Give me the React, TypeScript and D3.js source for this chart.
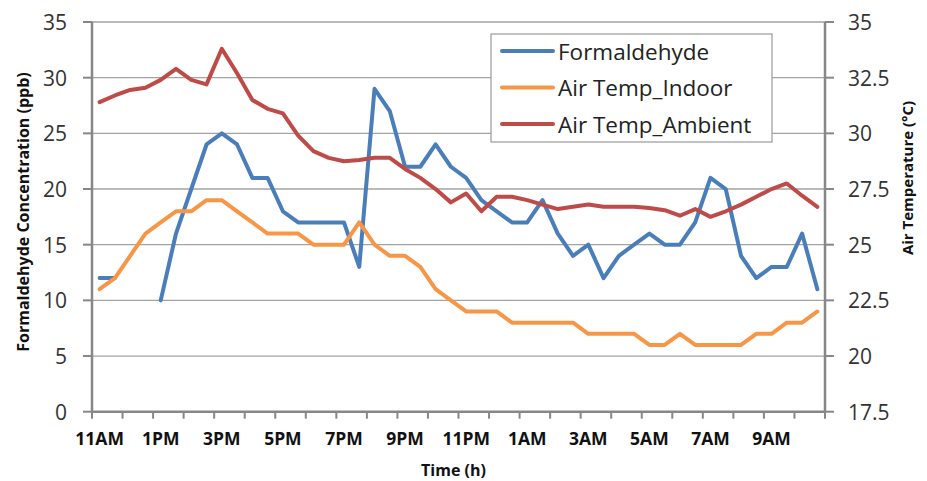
import React, { useEffect } from "react";
import * as d3 from "d3";

const categories = [
  "11:00", "11:30", "12:00", "12:30", "13:00", "13:30", "14:00", "14:30",
  "15:00", "15:30", "16:00", "16:30", "17:00", "17:30", "18:00", "18:30",
  "19:00", "19:30", "20:00", "20:30", "21:00", "21:30", "22:00", "22:30",
  "23:00", "23:30", "00:00", "00:30", "01:00", "01:30", "02:00", "02:30",
  "03:00", "03:30", "04:00", "04:30", "05:00", "05:30", "06:00", "06:30",
  "07:00", "07:30", "08:00", "08:30", "09:00", "09:30", "10:00", "10:30",
];

const tickLabels = ["11AM", "1PM", "3PM", "5PM", "7PM", "9PM", "11PM", "1AM", "3AM", "5AM", "7AM", "9AM"];

const formaldehyde: (number | null)[] = [
  12, 12, null, null, 10, 16, 20, 24, 25, 24, 21, 21, 18, 17, 17, 17,
  17, 13, 29, 27, 22, 22, 24, 22, 21, 19, 18, 17, 17, 19, 16, 14,
  15, 12, 14, 15, 16, 15, 15, 17, 21, 20, 14, 12, 13, 13, 16, 11,
];

const tempIndoor = [
  23, 23.5, 24.5, 25.5, 26, 26.5, 26.5, 27, 27, 26.5, 26, 25.5, 25.5, 25.5, 25, 25,
  25, 26, 25, 24.5, 24.5, 24, 23, 22.5, 22, 22, 22, 21.5, 21.5, 21.5, 21.5, 21.5,
  21, 21, 21, 21, 20.5, 20.5, 21, 20.5, 20.5, 20.5, 20.5, 21, 21, 21.5, 21.5, 22,
];

const tempAmbient = [
  31.4, 31.7, 31.95, 32.05, 32.4, 32.9, 32.4, 32.2, 33.8, 32.7, 31.5, 31.1, 30.9, 29.9, 29.2, 28.9,
  28.75, 28.8, 28.9, 28.9, 28.4, 28.0, 27.5, 26.9, 27.3, 26.5, 27.15, 27.15, 27.0, 26.8, 26.6, 26.7,
  26.8, 26.7, 26.7, 26.7, 26.65, 26.55, 26.3, 26.6, 26.25, 26.5, 26.8, 27.15, 27.5, 27.75, 27.2, 26.7,
];

const leftTicks = [0, 5, 10, 15, 20, 25, 30, 35];
const rightTicks = [17.5, 20, 22.5, 25, 27.5, 30, 32.5, 35];

const seriesNames = ["Formaldehyde", "Air Temp_Indoor", "Air Temp_Ambient"];
const seriesColors = ["#4A7EBB", "#F79646", "#BE4B48"];

const W = 927;
const H = 481;
const left = 92;
const right = 825;
const top = 22;
const bottom = 411.7;
const FONT = "'Open Sans', 'DejaVu Sans', sans-serif";
const AXIS = "#878787";
const GRID = "#a3a3a3";

export default function App() {
  useEffect(() => {
    document.body.style.margin = "0";
  }, []);

  const x = d3.scaleBand<string>().domain(categories).range([left, right]).padding(0);
  const bw = x.bandwidth();
  const cx = (i: number) => (x(categories[i]) as number) + bw / 2;
  const yL = d3.scaleLinear().domain([0, 35]).range([bottom, top]);
  const yR = d3.scaleLinear().domain([17.5, 35]).range([bottom, top]);

  const lineL = d3
    .line<number | null>()
    .defined((d) => d !== null)
    .x((_, i) => cx(i))
    .y((d) => yL(d as number));
  const lineR = d3
    .line<number>()
    .x((_, i) => cx(i))
    .y((d) => yR(d));

  const paths = [
    lineL(formaldehyde) || "",
    lineR(tempIndoor) || "",
    lineR(tempAmbient) || "",
  ];

  const boundaryTicks = d3.range(0, categories.length + 1, 2);

  return (
    <svg width={W} height={H} style={{ display: "block" }} fontFamily={FONT}>
      <rect x={0} y={0} width={W} height={H} fill="#fff" />
      {leftTicks.slice(1).map((t) => (
        <line key={"g" + t} x1={left} x2={right} y1={yL(t)} y2={yL(t)} stroke={GRID} strokeWidth={1.3} />
      ))}
      {paths.map((p, i) => (
        <path key={"s" + i} d={p} fill="none" stroke={seriesColors[i]} strokeWidth={4} strokeLinejoin="round" strokeLinecap="round" />
      ))}
      <line x1={left} x2={left} y1={top} y2={bottom + 1} stroke={AXIS} strokeWidth={2.5} />
      {leftTicks.map((t) => (
        <g key={"lt" + t}>
          <line x1={left - 9} x2={left} y1={yL(t)} y2={yL(t)} stroke={AXIS} strokeWidth={2} />
          <text x={67} y={yL(t)} textAnchor="end" dominantBaseline="central" fontSize={21} fill="#333">
            {t}
          </text>
        </g>
      ))}
      <line x1={right} x2={right} y1={top} y2={bottom + 1} stroke={AXIS} strokeWidth={2.5} />
      {rightTicks.map((t) => (
        <g key={"rt" + t}>
          <line x1={right} x2={right + 9} y1={yR(t)} y2={yR(t)} stroke={AXIS} strokeWidth={2} />
          <text x={848} y={yR(t)} textAnchor="start" dominantBaseline="central" fontSize={21} fill="#333">
            {t}
          </text>
        </g>
      ))}
      <line x1={left - 1} x2={right + 1} y1={bottom} y2={bottom} stroke={AXIS} strokeWidth={2.5} />
      {boundaryTicks.map((i) => (
        <line key={"xt" + i} x1={left + i * bw} x2={left + i * bw} y1={bottom} y2={bottom + 7} stroke={AXIS} strokeWidth={2} />
      ))}
      {tickLabels.map((lab, k) => (
        <text key={"xl" + k} x={cx(k * 4)} y={445} textAnchor="middle" fontSize={17.5} fontWeight="bold" fill="#111">
          {lab}
        </text>
      ))}
      <text x={(left + right) / 2 - 5} y={476} textAnchor="middle" fontSize={16} fontWeight="bold" fill="#111">
        Time (h)
      </text>
      <text transform={`translate(29, 212) rotate(-90)`} textAnchor="middle" fontSize={16} fontWeight="bold" fill="#111">
        Formaldehyde Concentration (ppb)
      </text>
      <text transform={`translate(913, 178) rotate(-90)`} textAnchor="middle" fontSize={15} fontWeight="bold" fill="#111">
        Air Temperature (°C)
      </text>
      <rect x={491} y={34} width={281} height={108} fill="#fff" stroke="#9a9a9a" strokeWidth={1.2} />
      {seriesNames.map((n, i) => (
        <g key={"lg" + i}>
          <line x1={502} x2={553} y1={51 + i * 36.5} y2={51 + i * 36.5} stroke={seriesColors[i]} strokeWidth={4} strokeLinecap="round" />
          <text x={558} y={51 + i * 36.5} dominantBaseline="central" fontSize={22.5} fill="#222">
            {n}
          </text>
        </g>
      ))}
    </svg>
  );
}
